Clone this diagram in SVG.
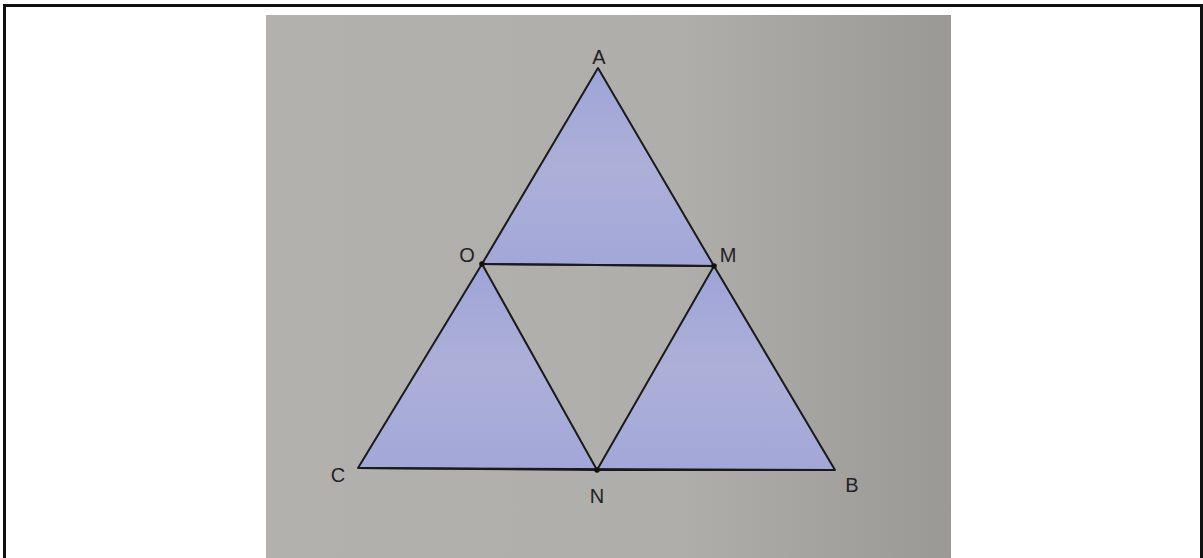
<svg xmlns="http://www.w3.org/2000/svg" width="1203" height="558" viewBox="0 0 1203 558">
<style>
.edge{stroke:#1a1a1a;stroke-width:2;fill:none;stroke-linejoin:round}
.tri{fill:url(#blue);stroke:#1a1a1a;stroke-width:2;stroke-linejoin:round}
.lbl{font-family:"Liberation Sans",Arial,sans-serif;font-size:20px;fill:#222;text-anchor:middle}
.dot{fill:#111}
</style>
<defs>
<linearGradient id="bg" x1="0" y1="0" x2="1" y2="0">
<stop offset="0" stop-color="#b2b1ad"/>
<stop offset="0.6" stop-color="#afaeaa"/>
<stop offset="1" stop-color="#9a9995"/>
</linearGradient>
<linearGradient id="blue" x1="0" y1="0" x2="0" y2="1">
<stop offset="0" stop-color="#9ea4d8"/>
<stop offset="0.5" stop-color="#acb0d8"/>
<stop offset="1" stop-color="#a2a7d9"/>
</linearGradient>
</defs>
<rect x="0" y="0" width="1203" height="558" fill="#ffffff"/>
<path d="M4.5 558 V5.5 H1201.5 V558" fill="none" stroke="#111" stroke-width="3"/>
<rect x="266" y="15" width="685" height="543" fill="url(#bg)"/>
<g id="triangle-top"><polygon class="tri" points="598,68 482,264 714,266"/></g>
<g id="triangle-left"><polygon class="tri" points="482,264 358,468 597,470"/></g>
<g id="triangle-right"><polygon class="tri" points="714,266 597,470 835,470"/></g>
<g id="connectors">
<line class="edge" x1="482" y1="264" x2="714" y2="266"/>
<line class="edge" x1="358" y1="468" x2="835" y2="470"/>
</g>
<g id="points">
<circle class="dot" cx="482" cy="264" r="2.8"/>
<circle class="dot" cx="714" cy="266" r="2.8"/>
<circle class="dot" cx="597" cy="470" r="2.8"/>
</g>
<g id="labels">
<text class="lbl" x="599" y="64">A</text>
<text class="lbl" x="467" y="262">O</text>
<text class="lbl" x="728" y="262">M</text>
<text class="lbl" x="338" y="482">C</text>
<text class="lbl" x="597" y="503">N</text>
<text class="lbl" x="852" y="492">B</text>
</g>
</svg>
